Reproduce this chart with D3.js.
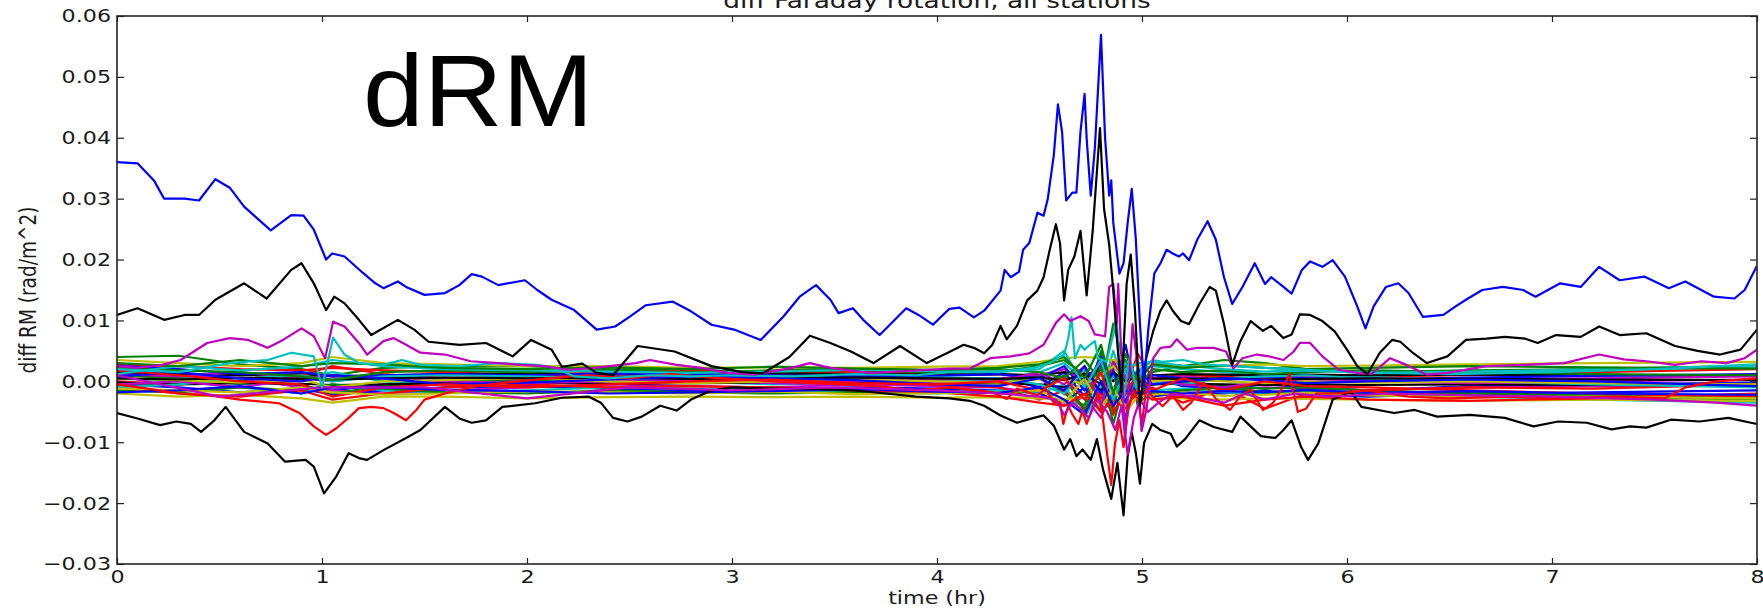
<!DOCTYPE html>
<html>
<head>
<meta charset="utf-8">
<script src="https://cdn.jsdelivr.net/npm/d3@7"></script>
<style>
  html, body { margin: 0; padding: 0; background: #fff; }
  svg { display: block; }
  text { font-family: "DejaVu Sans", sans-serif; fill: #1a1a1a; }
</style>
</head>
<body>
<div id="chart"></div>
<script>

// all RM values are in units of 1e-3 rad/m^2
var hourTicks = [0, 1, 2, 3, 4, 5, 6, 7, 8];
var rmTicks = [-30, -20, -10, 0, 10, 20, 30, 40, 50, 60];

// stations that stand out from the bundle
var blueTopHours = [0,0.1,0.18,0.23,0.33,0.4,0.48,0.55,0.62,0.75,0.85,0.91,0.96,1.02,1.05,1.11,1.2,1.26,1.3,1.37,1.41,1.5,1.6,1.67,1.73,1.78,1.86,1.99,2.05,2.12,2.23,2.34,2.43,2.5,2.58,2.71,2.8,2.9,3.01,3.14,3.25,3.33,3.41,3.48,3.52,3.59,3.64,3.72,3.85,3.91,3.98,4.06,4.11,4.18,4.23,4.31,4.33,4.36,4.4,4.42,4.45,4.49,4.52,4.54,4.57,4.59,4.61,4.63,4.66,4.68,4.7,4.72,4.73,4.75,4.77,4.8,4.82,4.84,4.85,4.86,4.89,4.91,4.93,4.95,4.97,4.99,5.01,5.03,5.06,5.09,5.12,5.15,5.18,5.2,5.23,5.27,5.32,5.36,5.4,5.44,5.49,5.55,5.6,5.63,5.69,5.73,5.78,5.82,5.88,5.93,5.99,6.05,6.09,6.13,6.19,6.25,6.3,6.37,6.47,6.53,6.58,6.66,6.76,6.86,6.92,7.04,7.14,7.23,7.33,7.45,7.57,7.65,7.79,7.89,7.94,8];
var blueTopValues = [36,35.8,33,30,30,29.7,33.2,31.8,28.7,24.8,27.3,27.2,24.9,20,21,20.5,17.8,16.1,15.3,16.4,15.5,14.2,14.5,15.8,17.6,17.2,15.8,16.6,15,13.4,11.7,8.5,9,10.6,12.5,13.1,11.5,9.3,8.5,6.8,10.6,13.9,15.8,13.4,11.2,12,10.1,7.6,12,10.9,9.3,11.9,12.1,10.5,11.6,14.9,18.3,17.1,18,21.6,22.7,27.7,27.2,29.9,37.2,45.5,41,29.7,31,31,41,47.2,39.9,30.5,38.3,56.9,39.9,30.5,33,26,17.7,19.4,26,31.6,23.3,9.4,-0.6,8.3,17.7,19.4,21.6,21,20.5,21,19.9,23.3,26.3,23.3,17.1,12.7,15.5,19.4,16,17.1,15.5,14.4,18.3,19.7,18.8,19.9,17.2,12.3,8.7,12.3,15.5,16.1,14.5,10.6,10.9,12.3,13.4,15,15.5,15,13.9,16.1,15.5,18.8,16.6,17.2,15.3,16.4,13.9,13.6,15,19];

var blackTopHours = [0,0.1,0.23,0.33,0.4,0.48,0.62,0.73,0.85,0.9,0.96,1.02,1.06,1.11,1.18,1.24,1.37,1.45,1.52,1.67,1.8,1.93,2.02,2.12,2.17,2.27,2.34,2.42,2.54,2.72,2.9,3.05,3.15,3.28,3.38,3.48,3.58,3.69,3.82,3.95,4.06,4.13,4.18,4.23,4.27,4.31,4.34,4.39,4.44,4.49,4.52,4.55,4.58,4.6,4.62,4.64,4.67,4.7,4.73,4.76,4.795,4.815,4.84,4.86,4.88,4.9,4.925,4.945,4.965,4.99,5.02,5.055,5.09,5.12,5.15,5.19,5.23,5.28,5.33,5.36,5.4,5.44,5.48,5.53,5.59,5.63,5.69,5.73,5.77,5.82,5.88,5.94,6,6.05,6.1,6.16,6.22,6.26,6.32,6.39,6.49,6.58,6.68,6.77,6.87,6.93,7.02,7.14,7.23,7.33,7.46,7.6,7.71,7.82,7.92,8];
var blackTopValues = [10.9,12,10.1,10.9,10.9,13.4,16.1,13.6,18.3,19.4,16.1,11.7,13.9,12.8,10.1,7.6,10.1,8.5,6.5,6,6.3,4.1,6.8,5.2,2.4,2.9,1.4,1,5.8,4.9,2.5,1.5,1.3,4,7.5,6.3,4.9,3,5.8,3,4.8,6,5.5,4.6,6,9.1,6.9,9.1,13.3,14.9,17.1,21.6,25.8,22.7,13.3,18.3,20.5,24.7,14.1,24.9,41.6,28.3,22.4,14.9,6,-1.8,16,20.8,12.1,-4,3.8,8.3,11.6,13.3,11.6,9.9,9.4,12.7,15.5,14.9,9.4,2.7,6.6,9.9,8.3,9.1,7.1,7.7,11,10.9,9.9,8.2,5.2,2.5,1.2,4.7,6.8,6.5,4.7,3,4.1,6.8,7,7.3,7,6.3,7.6,7.3,9,7.6,7.9,5.8,5,4.4,5.2,8.5];

var magentaTopHours = [0,0.1,0.22,0.31,0.44,0.55,0.64,0.735,0.81,0.9,0.96,1.015,1.054,1.11,1.18,1.22,1.3,1.35,1.41,1.48,1.6,1.725,1.86,1.97,2.08,2.2,2.33,2.53,2.6,2.73,2.85,2.98,3.11,3.29,3.38,3.48,3.67,3.85,4.06,4.16,4.26,4.36,4.45,4.52,4.58,4.62,4.65,4.7,4.74,4.77,4.82,4.84,4.86,4.876,4.884,4.9,4.917,4.933,4.954,4.974,4.998,5.022,5.055,5.09,5.14,5.17,5.22,5.27,5.35,5.41,5.445,5.49,5.56,5.62,5.69,5.74,5.77,5.82,5.88,5.96,6.05,6.12,6.21,6.29,6.39,6.49,6.68,6.86,7.06,7.23,7.35,7.46,7.6,7.73,7.85,7.94,8];
var magentaTopValues = [2.5,2.2,2.7,3.5,6.3,7.1,6.8,5.5,6.8,8.7,7.4,3.8,9.8,9,6.3,4.4,6.6,7.1,6,4.7,4.4,3.3,3,2.7,2.5,1.9,2.2,3,3.5,2.7,2.2,1.4,1.1,2.2,3,2.2,1.4,1.7,2.1,2.1,3.8,4.1,4.6,6,9.6,11,9.9,10.7,9.9,7.7,7.4,15.5,16,9.4,16,3.8,-9.5,-1.8,9.4,3.8,-8.2,-4.5,3.8,5.5,5.7,6.9,5.2,5.5,5.5,4.9,2.1,3.8,4.4,4.1,3.5,4.9,6.3,6.3,4.1,1.9,1.4,1.2,3.8,2.7,1.1,1.4,2.5,2.7,3,4.4,3.6,3.3,2.7,3.3,3,3.8,5.2];

var cyanTopHours = [0,0.3,0.55,0.735,0.85,0.96,1.0,1.054,1.11,1.18,1.3,1.39,1.48,1.67,1.86,2.05,2.14,2.23,2.4,2.6,2.8,3,3.3,3.6,3.9,4.06,4.23,4.36,4.47,4.55,4.62,4.64,4.656,4.673,4.7,4.72,4.746,4.77,4.786,4.827,4.86,4.876,4.89,4.91,4.94,4.97,5,5.05,5.1,5.2,5.3,5.45,5.6,5.75,6,6.5,7,7.5,8];
var cyanTopValues = [2,1.5,3,3.5,4.7,4.1,-1,7.2,4.4,3,2.7,3.5,2.7,2.5,3,2.7,2.2,0.8,0.5,1,0.8,1,0.8,1.2,1,1.5,1.5,1.8,2.2,3,4.4,7,10.5,3.8,6,5.2,6,6.6,3.8,3.2,7.7,11,2,-3,4,-1,2,3.5,3.2,3.5,2.8,2.5,2.2,2,1.5,1.2,1.5,2,2.8];

var blackBottomHours = [0,0.1,0.21,0.29,0.36,0.41,0.475,0.53,0.62,0.735,0.82,0.92,0.96,1.01,1.07,1.13,1.18,1.22,1.3,1.41,1.48,1.6,1.67,1.73,1.8,1.88,2.04,2.17,2.3,2.36,2.42,2.49,2.56,2.65,2.73,2.8,2.9,3,3.2,3.4,3.6,3.75,3.9,4.06,4.16,4.23,4.31,4.39,4.45,4.52,4.57,4.62,4.65,4.68,4.71,4.75,4.78,4.81,4.85,4.88,4.91,4.93,4.95,4.97,4.99,5.01,5.05,5.09,5.14,5.17,5.21,5.28,5.35,5.44,5.48,5.58,5.65,5.69,5.73,5.775,5.81,5.86,5.93,6.02,6.07,6.23,6.33,6.44,6.6,6.77,6.91,7.03,7.17,7.29,7.38,7.46,7.58,7.72,7.86,7.97,8];
var blackBottomValues = [-5.2,-6.1,-7.2,-6.6,-7,-8.3,-6.4,-4.2,-8.3,-10.2,-13.2,-12.9,-14,-18.4,-15.6,-11.8,-12.6,-12.9,-11.3,-9.3,-8,-4.2,-6.1,-6.8,-6.4,-4.2,-3.6,-2.7,-2.5,-3.5,-6,-6.6,-5.8,-4,-4.8,-3,-1.5,-1,-1.2,-1.3,-1.5,-2,-2.5,-2.8,-3.2,-4,-5.6,-6.8,-6.2,-5.6,-7.3,-11.2,-9.5,-12.3,-11.2,-12.9,-9.5,-14.5,-19.3,-13.4,-22,-12.3,-8.4,-11.8,-16.8,-10.1,-7,-8,-8.6,-10.7,-9.5,-6.4,-7.5,-8.3,-5.8,-9,-9.3,-8,-6.4,-10.7,-12.9,-10.2,-3,-1.7,-4.2,-5.2,-4.7,-5.8,-5.5,-6,-7.4,-6.6,-6.8,-7.9,-7.4,-7.6,-6.3,-6.6,-6,-6.8,-7];

var redBottomHours = [0,0.15,0.3,0.45,0.6,0.79,0.89,0.96,1.02,1.07,1.13,1.18,1.24,1.3,1.35,1.41,1.46,1.5,1.6,1.75,1.9,2.1,2.3,2.5,2.7,2.9,3.1,3.4,3.7,3.9,4.06,4.2,4.27,4.34,4.39,4.49,4.53,4.57,4.6,4.616,4.64,4.66,4.69,4.71,4.73,4.76,4.786,4.81,4.83,4.85,4.868,4.89,4.91,4.933,4.957,4.98,5,5.02,5.05,5.1,5.15,5.2,5.24,5.3,5.364,5.43,5.48,5.53,5.59,5.64,5.69,5.72,5.76,5.8,5.85,5.95,6.1,6.3,6.5,6.8,7,7.3,7.55,7.65,7.8,8];
var redBottomValues = [-0.5,-1.2,-2,-2.3,-3,-3.6,-5.2,-7.4,-8.8,-7.7,-6,-4.4,-4.2,-4.4,-5.2,-6.4,-4.7,-3,-2,-0.8,-0.2,0.5,1,0.5,1.2,0.6,0.2,-0.3,-0.8,-1.5,-1,-1.5,-1.8,-2.9,-1.2,-2.3,-1.2,-3.5,-3.5,-7,-4,-5.4,-7,-4.8,-7,-4.2,-1.8,-6.4,-12,-17,-10.3,-6.4,-10.8,-4.7,-1.4,-3,-7,-1.3,-2.4,-4.1,-2.4,-4.7,-3.5,-0.2,-3,-4.7,-2.4,-1.4,-4.7,-3.5,-0.8,1.2,-5,-4.5,-2,-2,-1.5,-2.5,-2.8,-2.5,-2.8,-2.5,-2.8,-1,0,0.5];

var magentaLowHours = [0,0.5,1,1.5,2,2.5,3,3.5,4,4.3,4.5,4.58,4.62,4.66,4.7,4.74,4.78,4.83,4.87,4.9,4.93,4.96,4.99,5.03,5.08,5.15,5.25,5.4,5.5,5.6,5.75,5.9,6.2,6.6,7,7.5,7.8,8];
var magentaLowValues = [1,-2.5,-1,-1,-2.8,-1,-1.5,-1,-1.5,-2,-2.5,-3,-5.5,-3.5,-4.5,-6,-3,-5,-8,-4,-12,-6,-3,-5,-3.5,-2,-2.5,-3.5,-2,-3,-2,-2.5,-2,-2.3,-2.5,-3,-3.5,-4];

// the dense bundle of quiet stations, sampled on a common time grid
var clusterHours = [0,0.3,0.6,0.9,1.05,1.3,1.6,2,2.4,2.8,3.2,3.6,4,4.3,4.5,4.62,4.72,4.8,4.86,4.92,4.98,5.05,5.2,5.4,5.6,5.8,6.1,6.6,7.2,8];
var clusterB1 = [1.5,0.5,0.2,-0.8,-1.5,-0.5,0.3,0.8,0.5,0.2,0,-0.3,0.2,0.5,-1,1.5,-2.5,3,-4,2,-1,0.5,-0.8,-1.2,-0.5,-1,-1.5,-0.8,-0.5,-0.2];
var clusterB2 = [-0.5,-1,-1.8,-1.2,-2.2,-1.5,-1,-0.8,-1.2,-1.5,-1.3,-1,-1.2,-1.5,-2,-3.5,-1,-5,2,-6,1,-2.5,-1.8,-2,-1.5,-2.2,-2.5,-2,-1.8,-1.5];
var clusterB3 = [2.5,2,1.2,1.5,0.8,1,1.2,1,1.3,1.2,1,0.8,0.9,1.2,0.5,2.5,-1.5,4,-2,6,-4,1,0.5,0.2,0.8,0.5,0.3,0.6,0.9,1.2];
var clusterB4 = [0.8,1.5,0.5,0,1,0.5,-0.5,-0.2,0.3,0.8,0.5,0.2,-0.5,-0.8,0.5,-1.5,2.5,-2,1.5,-3.5,2,-0.5,0,0.5,0.2,-0.3,0,0.3,0,-0.8];
var clusterG1 = [4,4.2,2.8,2,1,2.2,2.5,2.5,2,1.8,1.5,1.6,1.4,1.6,2.5,3.5,1,-1.5,9.5,2,-3,1.5,2.5,3.5,3,2,1.5,1.8,2,2.6];
var clusterG2 = [1,0.5,0,-0.5,-2,-0.8,0,0.3,0,-0.3,-0.2,0,-0.4,-0.2,0.8,-2,-4,5,-3,3.5,-2,-0.5,0,-0.8,-1.2,-1,-1.5,-2,-2.5,-3];
var clusterG3 = [-1.5,-1.8,-1,-1.5,-0.5,-1.2,-1.8,-2,-1.5,-1.8,-2,-1.8,-1.5,-2,-1.5,1,-5,2.5,-7,0.5,-3.5,-2,-1.5,-1,-1.8,-1.5,-2,-1.8,-2.2,-2.5];
var clusterG4 = [2.2,1.8,1.5,0.8,0.2,1.5,1.8,1.5,1.8,1.5,1.8,2,1.8,2,1.5,0.5,3.5,0,-4.5,2.5,-1,2,1.5,1.8,1.2,1.5,1.8,1.5,1.2,1];
var clusterR1 = [2.8,2.5,2,1.8,2.2,1.8,1.5,1,1.5,1.8,1.2,1.5,1,1.2,0.5,-2,1.5,-3,3.5,-1,4.5,0.5,1,0.8,1.2,0.5,0.8,1,1.5,2];
var clusterR2 = [0,-0.5,0.5,1,2.5,1.2,0.5,0.8,1.2,2,0.5,0,-0.5,-1,-3,-1.5,-4.5,-2,-5.5,-1,-2.5,-1,-3.5,-1,-4.5,-2,-1.5,-1,-1.2,-0.5];
var clusterR3 = [-1,-2,-2.5,-1.5,-3,-2,-1,-0.5,-1,-0.8,-1,-1.5,-1.8,-2.5,-3.5,-4,-2,-5,-3,-4.5,-1.5,-3,-2.5,-4,-3,-2.5,-3,-3.2,-2.8,-2];
var clusterR4 = [1.8,1,0,-0.5,-2.5,-1,-0.5,-1,-0.5,0,0.3,-0.3,-0.5,0,-1.5,0.5,-3,1.5,-5,-2,1,-1.5,0.5,-1.5,0,-0.8,-1,-1.5,-2,-2.5];
var clusterC1 = [2,1,-0.5,0.5,1.5,0,-0.5,0,0.3,0,-0.5,-0.2,0,0.3,1.5,3,0,-2,5,-1.5,2,2.5,2,1.5,1,0.5,0.8,1.5,2,2.5];
var clusterC2 = [0.5,0,-1,-2,-0.5,-1.5,-1.8,-1.5,-1,-1.2,-1.5,-1.8,-2,-1.5,-2,-0.5,-6,-1,-3.5,3,-2.5,-1.5,-1.2,-1.8,-2,-1.5,-1.8,-2.5,-3,-3.5];
var clusterC3 = [-1,-0.5,0.5,1,0,0.8,1,0.8,0.5,0.6,0.8,0.5,0.6,0.5,-0.5,-2,2,-3.5,1,-2.5,0.5,0,-0.5,0.5,0.8,1,0.5,0,-0.5,-1];
var clusterM1 = [3,1,0.5,-1,-1.5,-2,-1.5,-1,-0.5,-0.8,-1,-0.5,-0.8,-1,-2,-4,-2.5,-6,-1,-3,-0.5,-2,-2.5,-1.5,-1,-1.2,-1.5,-1,-0.8,-0.5];
var clusterM2 = [1.2,0.8,1.5,0.5,0,1,0.5,0.3,0.8,0.5,0.2,0,0.3,0.5,1,2,0,3,-2.5,1,-1,0.5,0.8,0.3,0.5,0.8,0.5,0.3,0.5,0.8];
var clusterM3 = [-0.5,0,-1,0.5,1,0.5,0,-0.3,0,0.2,-0.3,-0.5,-0.2,0,1.5,-0.5,2.5,-4,3,-1,1,0.5,-0.5,-1,0,0.3,0,-0.3,0,0.3];
var clusterY1 = [3.5,3,2.5,3,4,3,2.8,2.5,2.5,2.2,2.3,2.2,2.4,2.5,3.2,3.8,4,3.8,3.5,3,2.5,3,2.5,2.5,2.8,2.5,2.6,2.8,3,3.2];
var clusterY2 = [-2,-2.5,-2.2,-2.8,-3.5,-2.5,-2.5,-2.8,-2.6,-2.5,-2.6,-2.5,-2.7,-2.6,-2.8,-3,-2.5,-3.5,-3,-4,-2,-2.8,-2.8,-3,-2.8,-2.9,-3,-3.2,-3,-3.2];
var clusterY3 = [0.5,0.2,-0.2,0.3,-1,0,0.2,0.5,0,-0.3,0,0.3,0,-0.2,0.3,0.5,-0.5,1,2.5,-0.5,0.5,0,0.3,0,-0.3,0,-0.2,0,-0.3,-0.5];
var clusterK1 = [1.5,1.2,1,1.2,0.8,1,1.2,1.3,1.1,1.2,1.3,1.2,1.1,1.2,1,1.5,1,2,0,3,0.5,1,1.2,1.1,1,1.1,1,1.1,1,0.9];
var clusterK2 = [-0.2,-0.5,-0.3,-0.4,-0.6,-0.5,-0.3,-0.2,-0.4,-0.3,-0.2,-0.3,-0.4,-0.3,-0.5,-1,0.5,-1.5,1,-2,0,-0.5,-0.4,-0.5,-0.6,-0.5,-0.6,-0.5,-0.6,-0.7];
var clusterK3 = [0.5,0.3,0.6,0.4,0.3,0.5,0.6,0.5,0.6,0.4,0.5,0.6,0.5,0.4,0.6,0.2,1.2,-0.5,1.5,0,0.8,0.5,0.4,0.5,0.3,0.4,0.5,0.4,0.3,0.2];
var clusterG5 = [3,2.5,3.5,2.5,3,2.8,2.2,2,2.3,2,2.4,2.1,1.9,2.2,2.8,4,0.5,6,-2,4.5,0,2.8,2.2,2.6,2.2,2,2.2,2.5,2.3,2.1];
var clusterC4 = [1.2,2.5,1.8,2.4,3.5,2.5,2,1.8,1.6,1.4,1.6,1.9,1.7,1.5,2,5,-1,3.5,-3,2,3,3.2,2.6,2,1.6,1.8,1.4,1.6,1.9,2.3];
var clusterY4 = [-1.2,-1.5,-1.8,-1,-1.8,-2.2,-2,-1.6,-1.8,-2,-1.7,-2.1,-2,-1.8,-1.5,-3.5,0.5,-4.5,-1,-5,-2.5,-2.2,-1.8,-2.4,-2.2,-1.9,-2.3,-2.6,-2.5,-2.8];
var clusterB5 = [-1.8,-1.5,-0.8,-2,-1,-1,-1.4,-1.6,-2,-1.8,-1.6,-1.3,-1.7,-1.9,-1,-3,-5.5,0,-4,-1.5,-2,-1.6,-2,-1.6,-1.8,-1.4,-1.9,-1.6,-2,-2.2];

// matplotlib classic colour cycle
var lineColors = { b: "#0000ff", g: "#008000", r: "#ff0000", c: "#00bfbf", m: "#bf00bf", y: "#bfbf00", k: "#000000" };

var drawChart = function() {

	var width = 1763, height = 614;
	var plotLeft = 117, plotRight = 1757, plotTop = 16, plotBottom = 564;
	var stretch = 1.2; // the figure text is squeezed wide in the original

	var svg = d3.select("#chart").append("svg")
		.attr("width", width)
		.attr("height", height);

	var x = d3.scaleLinear().domain([0, 8]).range([plotLeft, plotRight]);
	var y = d3.scaleLinear().domain([-30, 60]).range([plotBottom, plotTop]);

	var toPoints = function(hours, values) {
		var n = Math.min(hours.length, values.length);
		var pts = [];
		for (var i = 0; i < n; i++) {
			pts.push([hours[i], values[i]]);
		}
		return pts;
	};

	var clusterList = [
		["b", clusterB1], ["g", clusterG1], ["r", clusterR1], ["c", clusterC1], ["m", clusterM1], ["y", clusterY1], ["k", clusterK1],
		["b", clusterB2], ["g", clusterG2], ["r", clusterR2], ["c", clusterC2], ["m", clusterM2], ["y", clusterY2], ["k", clusterK2],
		["b", clusterB3], ["g", clusterG3], ["r", clusterR3], ["c", clusterC3], ["m", clusterM3], ["y", clusterY3], ["k", clusterK3],
		["b", clusterB4], ["g", clusterG4], ["r", clusterR4], ["c", clusterC4], ["y", clusterY4], ["g", clusterG5], ["b", clusterB5]
	];

	var series = [];
	clusterList.forEach(function(d) {
		series.push({ color: lineColors[d[0]], points: toPoints(clusterHours, d[1]) });
	});

	series.push({ color: lineColors.k, points: toPoints(blackBottomHours, blackBottomValues) });
	series.push({ color: lineColors.r, points: toPoints(redBottomHours, redBottomValues) });
	series.push({ color: lineColors.m, points: toPoints(magentaLowHours, magentaLowValues) });
	series.push({ color: lineColors.c, points: toPoints(cyanTopHours, cyanTopValues) });
	series.push({ color: lineColors.m, points: toPoints(magentaTopHours, magentaTopValues) });
	series.push({ color: lineColors.k, points: toPoints(blackTopHours, blackTopValues) });
	series.push({ color: lineColors.b, points: toPoints(blueTopHours, blueTopValues) });

	svg.append("defs").append("clipPath")
		.attr("id", "plotClip")
		.append("rect")
		.attr("x", plotLeft)
		.attr("y", plotTop)
		.attr("width", plotRight - plotLeft)
		.attr("height", plotBottom - plotTop);

	var line = d3.line()
		.x(function(d) { return x(d[0]); })
		.y(function(d) { return y(d[1]); });

	svg.append("g")
		.attr("clip-path", "url(#plotClip)")
		.selectAll("path")
		.data(series)
		.enter()
		.append("path")
		.attr("d", function(d) { return line(d.points); })
		.attr("fill", "none")
		.attr("stroke", function(d) { return d.color; })
		.attr("stroke-width", 2.2)
		.attr("stroke-linejoin", "round");

	// axes, ticks pointing inwards on all four sides
	var fmt = d3.format(".2f");

	var styleAxis = function(g) {
		g.select(".domain").remove();
		g.selectAll(".tick line").attr("stroke", "#222").attr("stroke-width", 1.2);
		g.selectAll(".tick text")
			.attr("fill", "#1a1a1a")
			.style("font-family", "DejaVu Sans")
			.style("font-size", "18.5px");
	};

	var bottomAxis = svg.append("g")
		.attr("transform", "translate(0," + plotBottom + ")")
		.call(d3.axisBottom(x).tickValues(hourTicks).tickSize(-6).tickPadding(6).tickFormat(d3.format("d")));
	styleAxis(bottomAxis);
	bottomAxis.selectAll(".tick text").attr("transform", "scale(" + stretch + ",1)");

	var leftAxis = svg.append("g")
		.attr("transform", "translate(" + plotLeft + ",0)")
		.call(d3.axisLeft(y).tickValues(rmTicks).tickSize(-7).tickPadding(5)
			.tickFormat(function(d) { return fmt(d / 1000); }));
	styleAxis(leftAxis);
	leftAxis.selectAll(".tick text")
		.attr("x", -5)
		.attr("transform", "scale(" + stretch + ",1)");

	var topAxis = svg.append("g")
		.attr("transform", "translate(0," + plotTop + ")")
		.call(d3.axisTop(x).tickValues(hourTicks).tickSize(-6).tickFormat(""));
	styleAxis(topAxis);

	var rightAxis = svg.append("g")
		.attr("transform", "translate(" + plotRight + ",0)")
		.call(d3.axisRight(y).tickValues(rmTicks).tickSize(-7).tickFormat(""));
	styleAxis(rightAxis);

	svg.append("rect")
		.attr("x", plotLeft)
		.attr("y", plotTop)
		.attr("width", plotRight - plotLeft)
		.attr("height", plotBottom - plotTop)
		.attr("fill", "none")
		.attr("stroke", "#222")
		.attr("stroke-width", 1.6);

	// title, mostly cut off at the top edge like in the source figure
	svg.append("text")
		.attr("x", ((plotLeft + plotRight) / 2) / stretch)
		.attr("y", 8)
		.attr("transform", "scale(" + stretch + ",1)")
		.attr("text-anchor", "middle")
		.style("font-size", "22px")
		.text("diff Faraday rotation, all stations");

	svg.append("text")
		.attr("x", ((plotLeft + plotRight) / 2) / stretch)
		.attr("y", 604)
		.attr("transform", "scale(" + stretch + ",1)")
		.attr("text-anchor", "middle")
		.style("font-size", "18.5px")
		.text("time (hr)");

	svg.append("text")
		.attr("transform", "translate(36," + ((plotTop + plotBottom) / 2) + ") scale(" + stretch + ",1) rotate(-90)")
		.attr("text-anchor", "middle")
		.style("font-size", "18.5px")
		.text("diff RM (rad/m^2)");

	// big annotation on top of the plot
	svg.append("text")
		.attr("x", 363 / 1.07)
		.attr("y", 126)
		.attr("transform", "scale(1.07,1)")
		.style("font-family", "'Liberation Sans', Arial, sans-serif")
		.style("font-size", "102px")
		.style("fill", "#000")
		.text("dRM");
};

drawChart();

</script>
</body>
</html>
